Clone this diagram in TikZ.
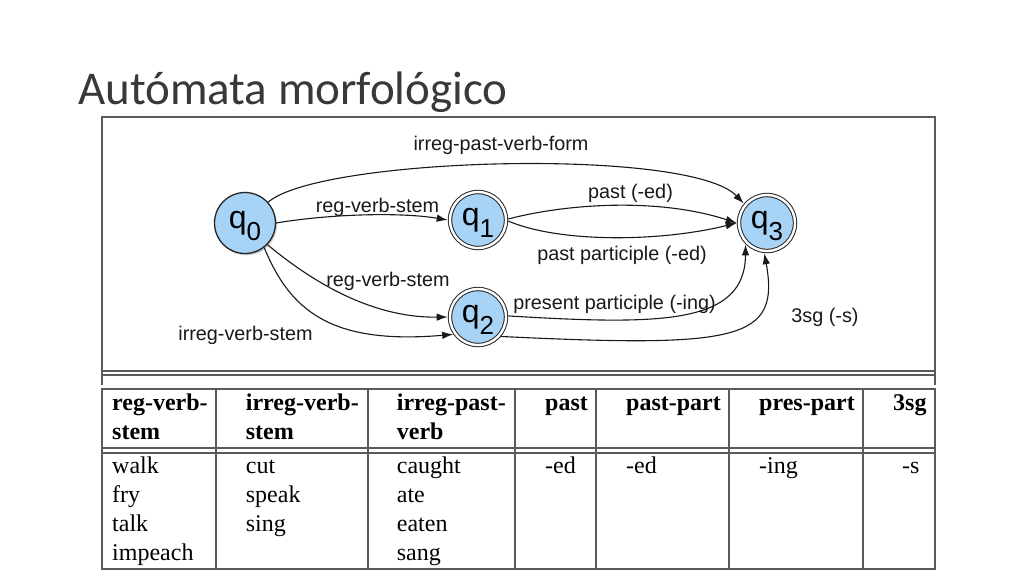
\documentclass[tikz,border=0pt]{standalone}
\usepackage{fontspec}
\setmainfont{Liberation Serif}
\newfontfamily\arialf{Liberation Sans}
\newfontfamily\titlef{Carlito}
\usetikzlibrary{arrows.meta,shadows}
\definecolor{nodeblue}{HTML}{A7D3F6}
\definecolor{framegray}{HTML}{5A5A5A}
\newcommand{\qlab}[1]{{\fontsize{32}{32}\selectfont q\raisebox{-12pt}[6pt][0pt]{\fontsize{26}{26}\selectfont #1}}}
\begin{document}
\begin{tikzpicture}[x=1pt,y=-1pt,
  state/.style={circle, draw=black!85, line width=1.3pt, fill=nodeblue, minimum size=61pt, inner sep=0pt, font=\arialf,
    drop shadow={opacity=0.4, shadow xshift=1.4pt, shadow yshift=-1.8pt}},
  accept/.style={circle, draw=black!85, line width=1pt, double=white, double distance=2.4pt, fill=nodeblue,
    minimum size=56pt, inner sep=0pt, outer sep=2.3pt, font=\arialf,
    drop shadow={opacity=0.4, shadow xshift=1.4pt, shadow yshift=-1.8pt}},
  trans/.style={draw=black!90, line width=1.1pt, -{Latex[length=11pt,width=7.5pt]}},
  elab/.style={anchor=base, inner sep=0pt, font=\arialf\fontsize{19.8}{22}\selectfont, text=black!90},
  frame/.style={draw=framegray, line width=1.4pt},
  hd/.style={anchor=base west, inner sep=0pt, font=\fontsize{24}{24}\bfseries\selectfont},
  bd/.style={anchor=base west, inner sep=0pt, font=\fontsize{24}{24}\selectfont}
]
\useasboundingbox (0,0) rectangle (1024,576);
\fill[white] (0,0) rectangle (1024,576);

% title
\node[anchor=base west, inner sep=0pt, font=\titlef\fontsize{47}{47}\selectfont, text=black!78] (title) at (78,104) {Autómata morfológico};

% upper frame
\draw[frame] (102,117) rectangle (935,371);
\draw[frame] (102,375) -- (935,375);
\draw[frame] (102,371) -- (102,385);
\draw[frame] (935,371) -- (935,385);

% states
\node[state]  (q0) at (245,223) {\qlab{0}};
\node[accept] (q1) at (478,220) {\qlab{1}};
\node[accept] (q2) at (478,317) {\qlab{2}};
\node[accept] (q3) at (767,223) {\qlab{3}};

% transitions
\draw[trans] (q0.42) .. controls (320,157) and (690,147) .. (q3.140);
\draw[trans] (q0.0) .. controls (330,214) and (400,212) .. (q1.180);
\draw[trans] (q1.2) .. controls (570,203) and (660,198) .. (q3.180);
\draw[trans] (q1.-2) .. controls (560,243) and (660,242) .. (q3.180);
\draw[trans] (q0.-44) .. controls (310,280) and (370,318) .. (q2.180);
\draw[trans] (q0.-52) .. controls (290,310) and (330,345) .. (q2.215);
\draw[trans] (q2.2) .. controls (660,325) and (745,325) .. (q3.225);
\draw[trans] (q2.-40) .. controls (740,348) and (780,340) .. (q3.265);

% labels
\node[elab] (l1) at (501,150) {irreg-past-verb-form};
\node[elab] (l2) at (377.5,212) {reg-verb-stem};
\node[elab] (l3) at (388,286) {reg-verb-stem};
\node[elab] (l4) at (245.5,340) {irreg-verb-stem};
\node[elab] (l5) at (630.5,198) {past (-ed)};
\node[elab] (l6) at (622,260) {past participle (-ed)};
\node[elab] (l7) at (614.5,309) {present participle (-ing)};
\node[elab] (l8) at (825,322) {3sg (-s)};

% table
\draw[frame] (102,389) rectangle (935,569);
\draw[frame] (102,448) -- (935,448);
\draw[frame] (102,453) -- (935,453);
\foreach \xx in {216,368,515,596,729,863} \draw[frame] (\xx,389) -- (\xx,569);

\node[hd] (h1a) at (112,410) {reg-verb-};
\node[hd] (h1b) at (112,439) {stem};
\node[hd] (h2a) at (245.7,410) {irreg-verb-};
\node[hd] (h2b) at (245.7,439) {stem};
\node[hd] (h3a) at (396.7,410) {irreg-past-};
\node[hd] (h3b) at (396.7,439) {verb};
\node[hd] (h4) at (545,410) {past};
\node[hd] (h5) at (626,410) {past-part};
\node[hd] (h6) at (759,410) {pres-part};
\node[hd] (h7) at (893,410) {3sg};

\node[bd] (b11) at (112,473) {walk};
\node[bd] (b12) at (112,502) {fry};
\node[bd] (b13) at (112,531) {talk};
\node[bd] (b14) at (112,560) {impeach};
\node[bd] (b21) at (245.7,473) {cut};
\node[bd] (b22) at (245.7,502) {speak};
\node[bd] (b23) at (245.7,531) {sing};
\node[bd] (b31) at (396.7,473) {caught};
\node[bd] (b32) at (396.7,502) {ate};
\node[bd] (b33) at (396.7,531) {eaten};
\node[bd] (b34) at (396.7,560) {sang};
\node[bd] (b4) at (545,473) {-ed};
\node[bd] (b5) at (626,473) {-ed};
\node[bd] (b6) at (759,473) {-ing};
\node[bd] (b7) at (902,473) {-s};
\end{tikzpicture}
\end{document}
